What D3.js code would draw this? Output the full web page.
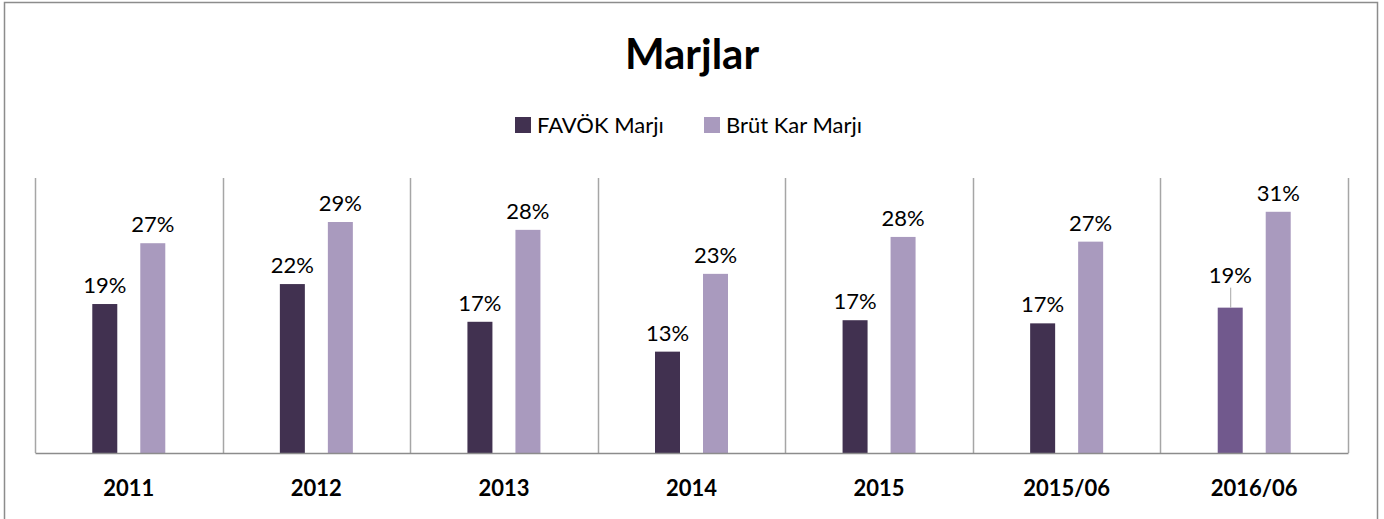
<!DOCTYPE html>
<html>
<head>
<meta charset="utf-8">
<style>
  body { margin: 0; background: #fff; }
  text { font-family: Lato, "Open Sans", sans-serif; }
</style>
</head>
<body>
<script src="https://d3js.org/d3.v7.min.js"></script>
<script>
var categories = ['2011', '2012', '2013', '2014', '2015', '2015/06', '2016/06'];
var favok = [18.96, 21.5, 16.7, 12.9, 16.9, 16.5, 18.5];
var brut = [26.7, 29.4, 28.4, 22.8, 27.5, 26.9, 30.7];
var seriesNames = ['FAVÖK Marjı', 'Brüt Kar Marjı'];

var width = 1384, height = 519;
var margin = {left: 35, right: 36, top: 178, bottom: 66};
var plotW = width - margin.left - margin.right,
    plotH = height - margin.top - margin.bottom;

var dark = '#413150', light = '#a99abe', highlight = '#71598d';

var svg = d3.select('body').append('svg')
    .attr('width', width)
    .attr('height', height);

// outer frame
svg.append('rect')
    .attr('x', 4.5).attr('y', 2.5)
    .attr('width', 1373).attr('height', 520)
    .attr('fill', '#fff').attr('stroke', '#8c8c8c').attr('stroke-width', 1.5);

svg.append('text')
    .attr('x', 692).attr('y', 69)
    .attr('text-anchor', 'middle')
    .style('font-size', '42px').style('font-weight', 'bold')
    .text('Marjlar');

// legend
var legend = svg.append('g');
var legX = [515, 704];
seriesNames.forEach(function(n, i) {
    legend.append('rect')
        .attr('x', legX[i]).attr('y', 117)
        .attr('width', 16).attr('height', 16)
        .attr('fill', i === 0 ? dark : light);
    legend.append('text')
        .attr('x', legX[i] + 22).attr('y', 133)
        .style('font-size', '22px')
        .text(n);
});

var g = svg.append('g').attr('transform', 'translate(' + margin.left + ',' + margin.top + ')');

var x = d3.scaleBand().domain(categories).range([0, plotW]).padding(0);
var y = d3.scaleLinear().domain([0, 35]).range([plotH, 0]);

// vertical separators
var seps = d3.range(categories.length + 1);
g.selectAll('line.sep').data(seps).enter().append('line')
    .attr('class', 'sep')
    .attr('x1', function(d) { return Math.round(d * x.bandwidth()) + 0.5; })
    .attr('x2', function(d) { return Math.round(d * x.bandwidth()) + 0.5; })
    .attr('y1', 0).attr('y2', plotH)
    .attr('stroke', '#a6a6a6').attr('stroke-width', 1.5);

var offset = 24, barW = 25;
var rows = categories.map(function(c, i) { return {cat: c, f: favok[i], b: brut[i], i: i}; });

g.selectAll('rect.fav').data(rows).enter().append('rect')
    .attr('x', function(d) { return x(d.cat) + x.bandwidth() / 2 - offset - barW / 2; })
    .attr('y', function(d) { return y(d.f); })
    .attr('width', barW)
    .attr('height', function(d) { return plotH - y(d.f); })
    .attr('fill', function(d) { return d.i === categories.length - 1 ? highlight : dark; });

g.selectAll('rect.brut').data(rows).enter().append('rect')
    .attr('x', function(d) { return x(d.cat) + x.bandwidth() / 2 + offset - barW / 2; })
    .attr('y', function(d) { return y(d.b); })
    .attr('width', barW)
    .attr('height', function(d) { return plotH - y(d.b); })
    .attr('fill', light);

// labels
g.selectAll('text.lf').data(rows).enter().append('text')
    .attr('x', function(d) { return x(d.cat) + x.bandwidth() / 2 - offset; })
    .attr('y', function(d) { return y(d.f) - (d.i === categories.length - 1 ? 25 : 11); })
    .attr('text-anchor', 'middle')
    .style('font-size', '22px')
    .text(function(d) { return Math.round(d.f) + '%'; });

g.selectAll('text.lb').data(rows).enter().append('text')
    .attr('x', function(d) { return x(d.cat) + x.bandwidth() / 2 + offset; })
    .attr('y', function(d) { return y(d.b) - 11; })
    .attr('text-anchor', 'middle')
    .style('font-size', '22px')
    .text(function(d) { return Math.round(d.b) + '%'; });

// leader line for last FAVÖK label
var last = rows[rows.length - 1];
g.append('line')
    .attr('x1', x(last.cat) + x.bandwidth() / 2 - offset + 0.5)
    .attr('x2', x(last.cat) + x.bandwidth() / 2 - offset + 0.5)
    .attr('y1', y(last.f) - 20).attr('y2', y(last.f))
    .attr('stroke', '#a6a6a6');

// x axis
var xAxis = g.append('g')
    .attr('transform', 'translate(0,' + plotH + ')')
    .call(d3.axisBottom(x).tickSize(0).tickPadding(27));
xAxis.select('.domain').attr('stroke', '#8c8c8c').attr('stroke-width', 1.5);
xAxis.selectAll('text')
    .style('font-family', 'Lato, sans-serif')
    .style('font-size', '22px').style('font-weight', 'bold')
    .attr('fill', '#000');
</script>
</body>
</html>
